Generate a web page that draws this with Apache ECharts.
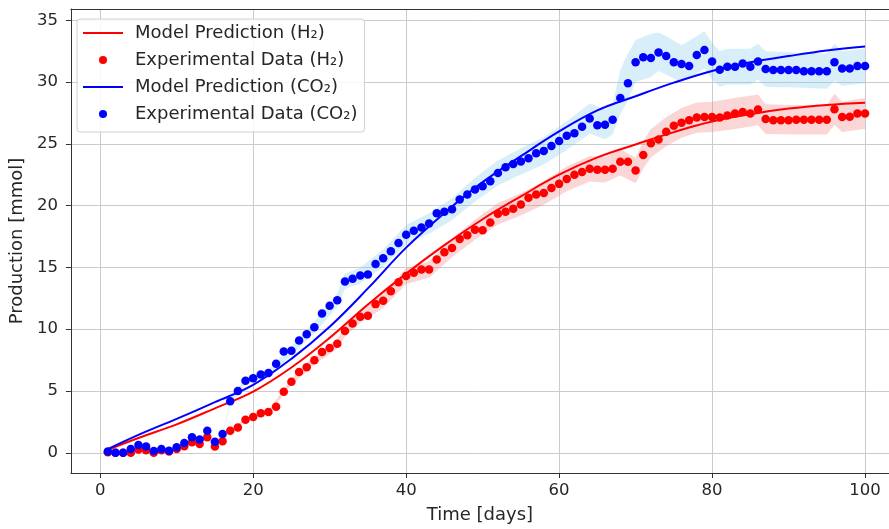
<!DOCTYPE html>
<html>
<head>
<meta charset="utf-8">
<script src="https://cdn.jsdelivr.net/npm/echarts@6/dist/echarts.min.js"></script>
<style>
  html, body { margin: 0; padding: 0; background: #fff; }
  #chart { width: 889px; height: 529px; }
</style>
</head>
<body>
<div id="chart"></div>
<script>
  // time axis (days)
  const days = [1, 2, 3, 4, 5, 6, 7, 8, 9, 10,
    11, 12, 13, 14, 15, 16, 17, 18, 19, 20,
    21, 22, 23, 24, 25, 26, 27, 28, 29, 30,
    31, 32, 33, 34, 35, 36, 37, 38, 39, 40,
    41, 42, 43, 44, 45, 46, 47, 48, 49, 50,
    51, 52, 53, 54, 55, 56, 57, 58, 59, 60,
    61, 62, 63, 64, 65, 66, 67, 68, 69, 70,
    71, 72, 73, 74, 75, 76, 77, 78, 79, 80,
    81, 82, 83, 84, 85, 86, 87, 88, 89, 90,
    91, 92, 93, 94, 95, 96, 97, 98, 99, 100]

  // experimental data, mmol
  const h2Data = [0.05, 0, 0, 0, 0.27, 0.2, 0, 0.2, 0.1, 0.3,
    0.53, 0.85, 0.72, 1.25, 0.5, 0.93, 1.79, 2.05, 2.67, 2.9,
    3.2, 3.3, 3.72, 4.94, 5.74, 6.54, 6.92, 7.48, 8.15, 8.47,
    8.82, 9.86, 10.47, 11.0, 11.09, 12.03, 12.3, 13.07, 13.8, 14.3,
    14.56, 14.83, 14.83, 15.64, 16.22, 16.57, 17.29, 17.6, 18.04, 18.0,
    18.63, 19.35, 19.5, 19.75, 20.1, 20.63, 20.9, 21.03, 21.43, 21.76,
    22.16, 22.5, 22.72, 22.98, 22.9, 22.9, 22.98, 23.55, 23.55, 22.85,
    24.1, 25.04, 25.36, 25.98, 26.46, 26.7, 26.9, 27.13, 27.18, 27.18,
    27.13, 27.3, 27.45, 27.58, 27.45, 27.77, 27.0, 26.9, 26.9, 26.9,
    26.95, 26.95, 26.95, 26.95, 26.95, 27.8, 27.18, 27.2, 27.45, 27.45]

  const co2Data = [0.1, 0, 0, 0.3, 0.64, 0.5, 0.15, 0.3, 0.17, 0.45,
    0.8, 1.25, 1.07, 1.79, 0.9, 1.52, 4.17, 5.0, 5.83, 6.03,
    6.33, 6.46, 7.2, 8.2, 8.26, 9.08, 9.6, 10.15, 11.27, 11.9,
    12.35, 13.87, 14.08, 14.35, 14.43, 15.28, 15.74, 16.3, 16.98, 17.64,
    17.96, 18.23, 18.55, 19.38, 19.5, 19.7, 20.5, 20.9, 21.3, 21.57,
    21.97, 22.64, 23.1, 23.36, 23.58, 23.84, 24.24, 24.43, 24.83, 25.23,
    25.66, 25.85, 26.38, 27.05, 26.5, 26.55, 26.95, 28.7, 29.9, 31.6,
    32.0, 31.94, 32.4, 32.1, 31.6, 31.46, 31.3, 32.18, 32.6, 31.67,
    31.0, 31.24, 31.24, 31.5, 31.24, 31.67, 31.06, 30.98, 30.98, 30.98,
    30.98, 30.87, 30.87, 30.87, 30.87, 31.6, 31.1, 31.1, 31.3, 31.3]

  // model curves
  const modelDays = [1, 5, 10, 15, 20, 25, 30, 35, 40, 45, 50, 55, 60, 65, 70, 75, 80, 85, 90, 95, 100]
  const h2Model = [0.25, 1.2, 2.3, 3.6, 4.95, 6.9, 9.3, 12.0, 14.5, 16.8, 18.9, 20.75, 22.5, 23.9, 24.95, 25.95, 26.8, 27.4, 27.85, 28.15, 28.33]
  const co2Model = [0.3, 1.45, 2.75, 4.1, 5.5, 7.6, 10.2, 13.3, 16.6, 19.4, 21.9, 24.0, 26.0, 27.7, 28.85, 29.95, 30.9, 31.6, 32.1, 32.55, 32.88]

  // uncertainty bands
  const h2BandDays = [1, 4, 7, 10, 12, 14, 15, 16, 17, 19, 22, 24, 25, 28, 31, 32, 34, 37, 40, 43, 46, 49, 52, 55, 58, 61, 64, 66, 68, 70, 71, 72, 74, 76, 78, 80, 83, 86, 87, 91, 95, 96, 97, 100]
  const h2BandLo = [0.05, 0, 0, 0.29, 0.81, 1.19, 0.48, 0.89, 1.71, 2.55, 3.15, 4.72, 5.48, 7.14, 8.42, 9.42, 10.5, 11.72, 13.66, 14.16, 15.82, 17.23, 18.48, 19.2, 20.08, 21.16, 21.95, 21.87, 22.44, 21.82, 23.0, 23.9, 24.8, 25.5, 25.9, 25.95, 26.2, 26.5, 25.8, 25.75, 25.75, 26.55, 25.95, 26.2]
  const h2BandHi = [0.05, 0, 0, 0.31, 0.89, 1.31, 0.52, 0.97, 1.87, 2.79, 3.45, 5.16, 6.0, 7.82, 9.22, 10.3, 11.5, 12.82, 14.94, 15.5, 17.32, 18.85, 20.22, 21.0, 21.98, 23.16, 24.01, 23.93, 24.56, 23.88, 25.2, 26.2, 27.15, 27.9, 28.35, 28.4, 28.7, 29.0, 28.2, 28.15, 28.15, 29.05, 28.4, 28.7]

  const co2BandDays = [1, 4, 7, 10, 13, 15, 16, 17, 19, 22, 25, 28, 31, 32, 34, 37, 40, 43, 46, 49, 52, 55, 58, 61, 64, 66, 67, 68, 69, 70, 72, 73, 74, 76, 78, 79, 80, 81, 82, 85, 86, 87, 91, 95, 96, 97, 100]
  const co2BandLo = [0.1, 0.29, 0.14, 0.43, 1.02, 0.86, 1.45, 3.95, 5.59, 6.17, 7.89, 9.69, 11.79, 13.25, 13.7, 15.03, 16.85, 17.72, 18.81, 20.34, 21.62, 22.52, 23.33, 24.5, 25.83, 25.37, 25.76, 27.4, 28.5, 30.0, 30.4, 30.9, 30.6, 30.0, 30.7, 31.1, 30.2, 29.6, 29.8, 29.8, 30.2, 29.6, 29.55, 29.45, 30.1, 29.7, 29.9]
  const co2BandHi = [0.1, 0.31, 0.16, 0.47, 1.12, 0.94, 1.59, 4.33, 6.11, 6.75, 8.63, 10.61, 12.91, 14.49, 15.0, 16.45, 18.43, 19.38, 20.59, 22.26, 23.66, 24.64, 25.53, 26.82, 28.27, 27.77, 28.18, 31.0, 32.3, 33.4, 33.9, 34.0, 33.7, 33.0, 33.7, 34.1, 33.2, 32.5, 32.7, 32.7, 33.1, 32.5, 32.4, 32.3, 33.1, 32.5, 32.7]

  // tick labels
  const xTicks = [0, 20, 40, 60, 80, 100]
  const yTicks = [0, 5, 10, 15, 20, 25, 30, 35]

  const font = 'DejaVu Sans'
  const gridColor = '#cbcbcb'
  const xMin = -3.83
  const xMax = 103.13

  function pairs(xs, ys) {
    return xs.map((x, i) => [x, ys[i]])
  }

  function bandSeries(xs, lo, hi, color) {
    return {
      type: 'custom',
      silent: true,
      z: 1,
      data: [[xs[0], lo[0]]],
      renderItem: function (params, api) {
        const pts = []
        for (let i = 0; i < xs.length; i++) pts.push(api.coord([xs[i], hi[i]]))
        for (let i = xs.length - 1; i >= 0; i--) pts.push(api.coord([xs[i], lo[i]]))
        return {
          type: 'polygon',
          shape: { points: pts },
          style: { fill: color, stroke: null }
        }
      }
    }
  }

  const chart = echarts.init(document.getElementById('chart'), null, { renderer: 'canvas' })

  chart.setOption({
    backgroundColor: '#ffffff',
    animation: false,
    textStyle: { fontFamily: font },
    grid: {
      left: 68,
      right: 0,
      top: 9,
      bottom: 51
    },
    legend: {
      orient: 'vertical',
      left: 77,
      top: 19,
      padding: [5, 7, 9, 6],
      itemWidth: 40,
      itemHeight: 8,
      itemGap: 9,
      backgroundColor: 'rgba(255,255,255,0.85)',
      borderColor: '#d0d0d0',
      borderWidth: 1,
      borderRadius: 3,
      textStyle: {
        fontFamily: font,
        fontSize: 18,
        color: '#262626',
        lineHeight: 18,
        padding: [0, 0, 0, 7]
      },
      data: [
        { name: 'Model Prediction (H₂)', icon: 'path://M0,0L20,0L20,1L0,1Z' },
        { name: 'Experimental Data (H₂)', icon: 'circle' },
        { name: 'Model Prediction (CO₂)', icon: 'path://M0,0L20,0L20,1L0,1Z' },
        { name: 'Experimental Data (CO₂)', icon: 'circle' }
      ]
    },
    xAxis: [{
      type: 'value',
      min: xMin,
      max: xMax,
      name: 'Time [days]',
      nameLocation: 'middle',
      nameGap: 33,
      nameTextStyle: { fontFamily: font, fontSize: 18, color: '#262626' },
      axisLine: { show: true, onZero: false, lineStyle: { color: '#333', width: 1 } },
      axisTick: { show: true, length: 5, customValues: xTicks, lineStyle: { color: '#333' } },
      axisLabel: { customValues: xTicks, fontFamily: font, fontSize: 16.5, color: '#262626', margin: 9 },
      splitLine: { show: true, lineStyle: { color: gridColor, width: 1 } }
    }, {
      // top spine only
      type: 'value',
      position: 'top',
      min: xMin,
      max: xMax,
      axisLine: { show: true, onZero: false, lineStyle: { color: '#333', width: 1 } },
      axisTick: { show: false },
      axisLabel: { show: false },
      splitLine: { show: false }
    }],
    yAxis: {
      type: 'value',
      min: -1.635,
      max: 35.91,
      name: 'Production [mmol]',
      nameLocation: 'middle',
      nameGap: 41,
      nameTextStyle: { fontFamily: font, fontSize: 18, color: '#262626' },
      axisLine: { show: true, onZero: false, lineStyle: { color: '#333', width: 1 } },
      axisTick: { show: true, length: 5, customValues: yTicks, lineStyle: { color: '#333' } },
      axisLabel: { customValues: yTicks, fontFamily: font, fontSize: 16.5, color: '#262626', margin: 13 },
      splitLine: { show: true, lineStyle: { color: gridColor, width: 1 } }
    },
    series: [
      bandSeries(h2BandDays, h2BandLo, h2BandHi, 'rgba(240,128,128,0.32)'),
      bandSeries(co2BandDays, co2BandLo, co2BandHi, 'rgba(135,206,235,0.32)'),
      {
        name: 'Model Prediction (H₂)',
        type: 'line',
        smooth: 0.4,
        showSymbol: false,
        z: 2,
        color: '#ff0000',
        lineStyle: { width: 2, color: '#ff0000' },
        data: pairs(modelDays, h2Model)
      },
      {
        name: 'Experimental Data (H₂)',
        type: 'scatter',
        symbolSize: 8.5,
        z: 3,
        color: '#ff0000',
        itemStyle: { color: '#ff0000', opacity: 1 },
        data: pairs(days, h2Data)
      },
      {
        name: 'Model Prediction (CO₂)',
        type: 'line',
        smooth: 0.4,
        showSymbol: false,
        z: 4,
        color: '#0000ff',
        lineStyle: { width: 2, color: '#0000ff' },
        data: pairs(modelDays, co2Model)
      },
      {
        name: 'Experimental Data (CO₂)',
        type: 'scatter',
        symbolSize: 8.5,
        z: 5,
        color: '#0000ff',
        itemStyle: { color: '#0000ff', opacity: 1 },
        data: pairs(days, co2Data)
      }
    ]
  })
</script>
</body>
</html>
